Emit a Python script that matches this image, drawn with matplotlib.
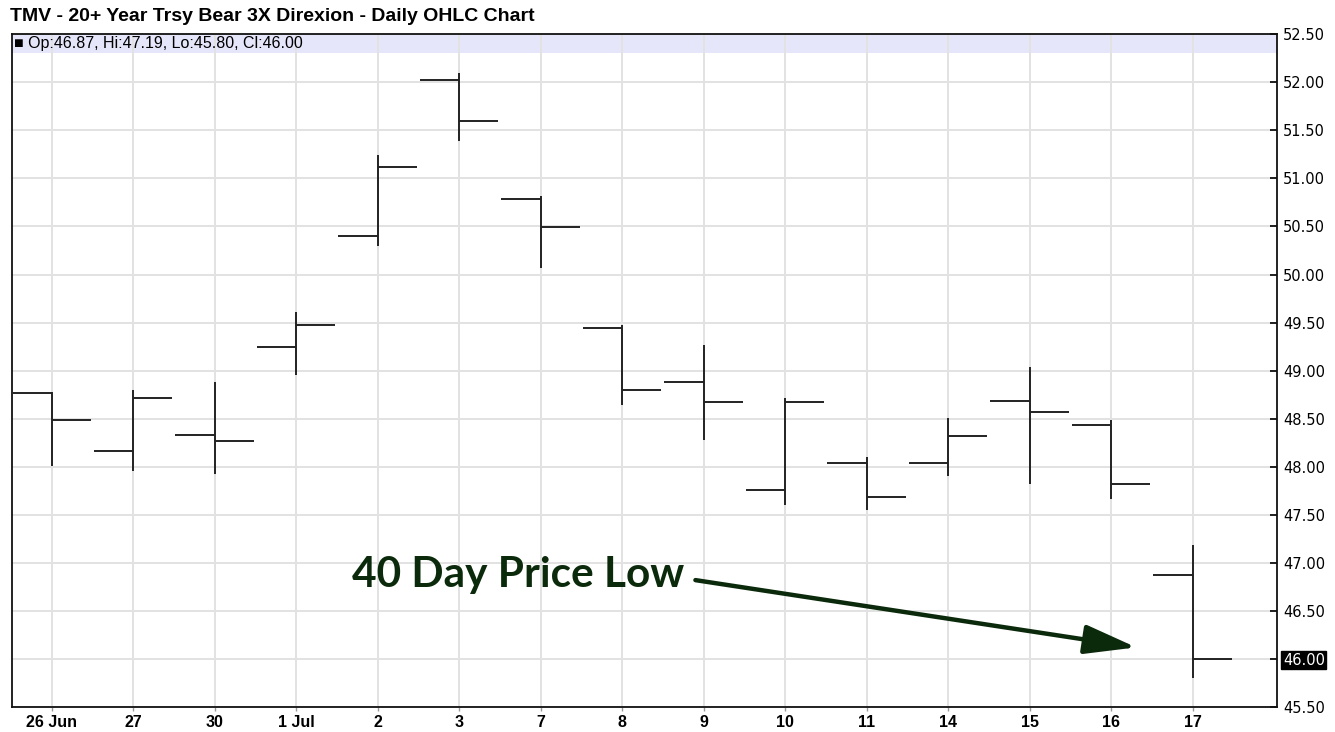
import matplotlib.pyplot as plt

# donnees OHLC
dates = ["26 Jun", "27", "30", "1 Jul", "2", "3", "7", "8", "9", "10", "11", "14", "15", "16", "17"]
opens = [48.77, 48.16, 48.33, 49.25, 50.40, 52.02, 50.79, 49.44, 48.88, 47.76, 48.04, 48.04, 48.68, 48.43, 46.87]
highs = [48.78, 48.80, 48.88, 49.61, 51.24, 52.10, 50.82, 49.47, 49.27, 48.71, 48.10, 48.51, 49.04, 48.49, 47.19]
lows = [48.01, 47.96, 47.92, 48.95, 50.30, 51.39, 50.07, 48.64, 48.28, 47.60, 47.55, 47.90, 47.82, 47.66, 45.80]
closes = [48.49, 48.72, 48.27, 49.47, 51.12, 51.60, 50.49, 48.80, 48.67, 48.67, 47.68, 48.32, 48.57, 47.82, 46.00]

yticks = [45.5 + 0.5 * i for i in range(15)]
last_close = closes[-1]

fig = plt.figure(figsize=(13.35, 7.32), dpi=100)
ax = fig.add_axes([0.00876, 0.0342, 0.948, 0.919])

x = list(range(len(dates)))
tick = 0.48
bar_col = "#222222"
ax.vlines(x, lows, highs, color=bar_col, lw=1.4, zorder=3)
ax.hlines(opens, [i - tick for i in x], x, color=bar_col, lw=1.4, zorder=3)
ax.hlines(closes, x, [i + tick for i in x], color=bar_col, lw=1.4, zorder=3)

ax.set_xlim(-0.49, 15.04)
ax.set_ylim(45.5, 52.5)

# bandeau du haut
ax.axhspan(52.5 - 19 / 96.28, 52.5, color="#e6e6fb", zorder=0, lw=0)
ax.text(0.002, 0.986, "\u25a0 Op:46.87, Hi:47.19, Lo:45.80, Cl:46.00", transform=ax.transAxes,
        fontsize=11.5, family="Liberation Sans", va="center", ha="left", zorder=4)

ax.set_xticks(x)
ax.set_xticklabels(dates, fontweight="bold", family="Liberation Sans", fontsize=11.5)
ax.set_yticks(yticks)
ax.set_yticklabels(["%.2f" % v for v in yticks], family="DejaVu Sans", fontsize=10.5)
ax.yaxis.tick_right()
ax.tick_params(axis="y", direction="in", length=5, width=1.2, pad=4, right=True, left=False)
ax.tick_params(axis="x", direction="out", length=3, width=1, color="#999999", pad=3)
ax.grid(True, color="#e2e2e2", lw=1.4, zorder=1)
ax.set_axisbelow(True)
for s in ax.spines.values():
    s.set_linewidth(1.3)
    s.set_color("#111111")

# etiquette du dernier cours
for lab in ax.get_yticklabels():
    if lab.get_text() == "%.2f" % last_close:
        lab.set_color("white")
        lab.set_bbox(dict(facecolor="black", edgecolor="black", pad=1.0))

fig.text(0.0075, 0.977, "TMV - 20+ Year Trsy Bear 3X Direxion - Daily OHLC Chart",
         fontsize=14, fontweight="bold", family="Liberation Sans", va="center", ha="left")

# annotation
green = "#0b2a0b"
ax.text(3.68, 46.75, "40 Day Price Low", fontsize=30.5, fontweight="bold", family="Lato",
        color=green, va="baseline", ha="left", zorder=5)
ax.annotate("", xy=(13.31, 46.12), xytext=(7.90, 46.82),
            arrowprops=dict(arrowstyle="-|>,head_length=1.6,head_width=0.45", mutation_scale=20,
                            lw=3.2, color=green, shrinkA=0, shrinkB=0), zorder=5)

fig.savefig("out.png", dpi=100)
